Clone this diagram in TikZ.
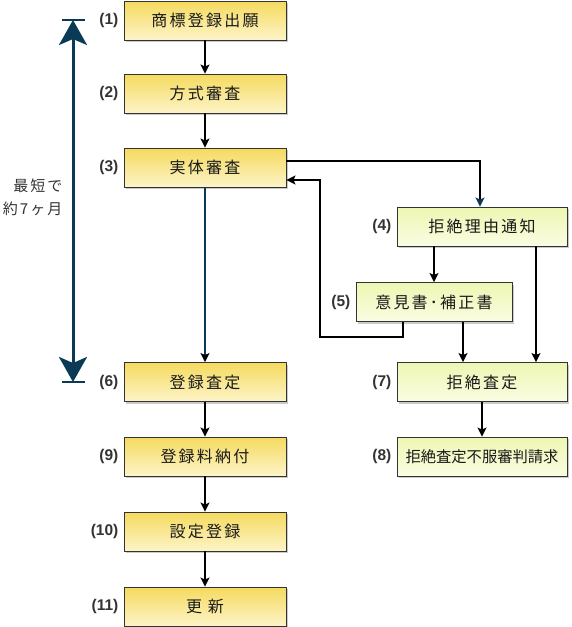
\documentclass[tikz,border=0pt]{standalone}
\usepackage{fontspec}
\setmainfont{Liberation Sans}
\newfontfamily\jp{Noto Sans CJK JP}
\newfontfamily\jpsp[LetterSpace=14]{Noto Sans CJK JP}
\usetikzlibrary{arrows.meta,shadows}
\definecolor{navy}{HTML}{0B3A56}
\definecolor{ytop}{HTML}{F5DA5E}
\definecolor{ybot}{HTML}{FDF4C8}
\definecolor{gtop}{HTML}{EEF6B2}
\definecolor{gbot}{HTML}{FAFDE2}
\definecolor{numgray}{HTML}{333333}
\tikzset{
  box/.style={draw=black!80,line width=0.9pt,minimum height=39pt,inner sep=0pt,
    font=\fontsize{16}{18}\selectfont\jpsp,text=black!90,
    drop shadow={shadow xshift=2pt,shadow yshift=-2pt,fill=black!35,opacity=.6}},
  yelbox/.style={box,minimum width=162pt,top color=ytop,bottom color=ybot},
  grnbox/.style={box,minimum width=170pt,top color=gtop,bottom color=gbot},
  num/.style={font=\fontsize{15.5}{17}\selectfont\bfseries,text=numgray,anchor=east,inner sep=0pt},
  link/.style={line width=1.8pt,-{Stealth[length=9pt,width=9pt,inset=2pt]}},
}
\begin{document}
\begin{tikzpicture}[x=1pt,y=-1pt]
  \useasboundingbox (0,0) rectangle (572,627);
  % main column
  \node[yelbox] (b1) at (205,20.5) {商標登録出願};
  \node[yelbox] (b2) at (205,93.5) {方式審査};
  \node[yelbox] (b3) at (205,167.5) {実体審査};
  \node[yelbox] (b6) at (205,382) {登録査定};
  \node[yelbox] (b9) at (205,456.5) {登録料納付};
  \node[yelbox] (b10) at (205,531.5) {設定登録};
  \node[yelbox] (b11) at (205,606.5) {更 新};
  % refusal column
  \node[grnbox] (b4) at (482,226.5) {拒絶理由通知};
  \node[grnbox,minimum width=156pt] (b5) at (434,302) {意見書･補正書};
  \node[grnbox] (b7) at (482,382) {拒絶査定};
  \node[grnbox,font=\fontsize{15.3}{18}\selectfont\jp] (b8) at (482,456.5) {拒絶査定不服審判請求};
  % numbers
  \foreach \b/\t in {b1/1,b2/2,b3/3,b6/6,b9/9,b10/10,b11/11,b4/4,b5/5,b7/7,b8/8}
    \node[num] (n\b) at ([xshift=-5pt]\b.west) {(\t)};
  % connectors
  \draw[link] (b1) -- (b2);
  \draw[link] (b2) -- (b3);
  \draw[link,navy,-{Stealth[length=9pt,width=9pt,inset=2pt,black]}] (b3) -- (b6);
  \draw[link] (b6) -- (b9);
  \draw[link] (b9) -- (b10);
  \draw[link] (b10) -- (b11);
  \draw[link] (b7) -- (b8);
  \coordinate (outA) at ([yshift=6.5pt]b3.east);
  \coordinate (inB) at ([yshift=-12.5pt]b3.east);
  \coordinate (loop) at (320,337);
  \draw[link,-{Stealth[length=9pt,width=9pt,inset=2pt,navy]}] (outA) -| ([xshift=-2pt]b4.north);
  \draw[link] (b5.north |- b4.south) -- (b5.north);
  \draw[link] ([xshift=-31pt]b5.south) |- (loop) |- (inB);
  \draw[link] ([xshift=29pt]b5.south) -- ([xshift=29pt]b5.south |- b7.north);
  \draw[link] ([xshift=54pt]b4.south) -- ([xshift=54pt]b4.south |- b7.north);
  % period
  \coordinate (top) at (73,20);
  \coordinate (bot) at (73,382);
  \draw[navy,line width=3pt,{Stealth[length=25pt,width=28pt,inset=6pt]}-{Stealth[length=25pt,width=28pt,inset=6pt]}] (top) -- (bot);
  \draw[navy,line width=2pt] ([xshift=-11pt]top) -- ([xshift=12pt]top);
  \draw[navy,line width=2pt] ([xshift=-11pt]bot) -- ([xshift=12pt]bot);
  \node[anchor=east,align=right,text=numgray,font=\fontsize{15}{23}\selectfont\jpsp] (period) at (66,197) {最短で\\約7ヶ月};
\end{tikzpicture}
\end{document}
